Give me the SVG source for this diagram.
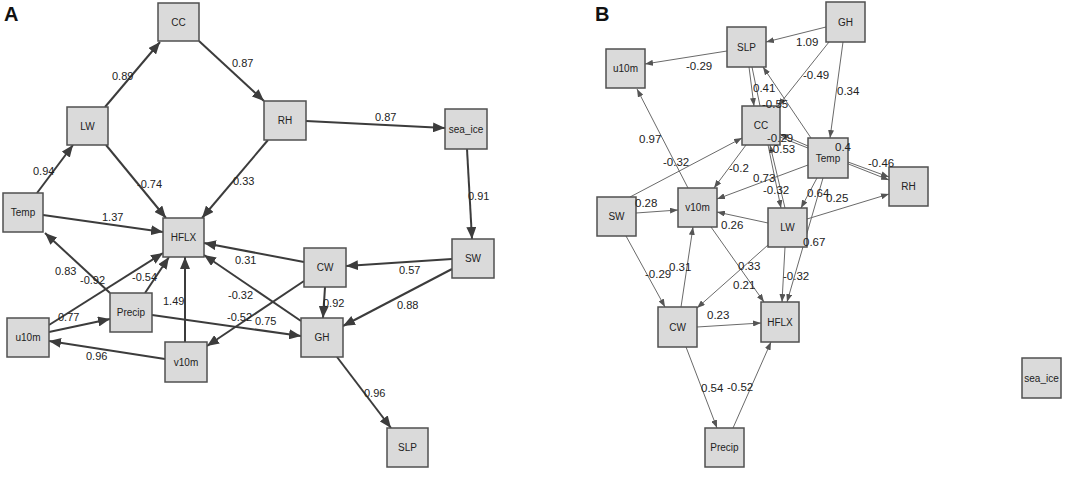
<svg xmlns="http://www.w3.org/2000/svg" width="1072" height="478" viewBox="0 0 1072 478">
<defs>
<style>
.box{fill:#dadada;stroke:#505050;stroke-width:1.5}
.nt{font-family:"Liberation Sans",Arial,sans-serif;font-size:10px;fill:#222;text-anchor:middle;dominant-baseline:central}
.ea{stroke:#3c3c3c;stroke-width:2;fill:none;marker-end:url(#ha)}
.eb{stroke:#6a6a6a;stroke-width:1;fill:none;marker-end:url(#hb)}
.la{font-family:"Liberation Sans",Arial,sans-serif;font-size:11px;fill:#222}
.lb{font-family:"Liberation Sans",Arial,sans-serif;font-size:11.5px;fill:#222}
.panel{font-family:"Liberation Sans",Arial,sans-serif;font-size:20px;font-weight:bold;fill:#111}
</style>
<marker id="ha" markerUnits="userSpaceOnUse" markerWidth="12" markerHeight="10" refX="12" refY="5" orient="auto"><path d="M0,0 L12,5 L0,10 z" fill="#3c3c3c"/></marker>
<marker id="hb" markerUnits="userSpaceOnUse" markerWidth="8" markerHeight="6" refX="8" refY="3" orient="auto"><path d="M0,0 L8,3 L0,6 z" fill="#555"/></marker>
</defs>
<rect width="1072" height="478" fill="#fff"/>
<text class="panel" x="4" y="21">A</text>
<text class="panel" x="595" y="21">B</text>

<g id="connectors-A">
<line class="ea" x1="105" y1="107" x2="160" y2="42"/>
<line class="ea" x1="199" y1="41" x2="264" y2="101"/>
<line class="ea" x1="37" y1="193" x2="73" y2="145"/>
<line class="ea" x1="106" y1="145" x2="166" y2="218"/>
<line class="ea" x1="268" y1="140" x2="202" y2="218"/>
<line class="ea" x1="306" y1="121" x2="445" y2="128"/>
<line class="ea" x1="467" y1="149" x2="472" y2="239"/>
<line class="ea" x1="43" y1="215" x2="163" y2="232"/>
<line class="ea" x1="110" y1="293" x2="45" y2="233"/>
<line class="ea" x1="49" y1="325" x2="163" y2="253"/>
<line class="ea" x1="145" y1="293" x2="169" y2="257"/>
<line class="ea" x1="49" y1="332" x2="110" y2="319"/>
<line class="ea" x1="152" y1="315" x2="301" y2="336"/>
<line class="ea" x1="185" y1="342" x2="185" y2="257"/>
<line class="ea" x1="165" y1="359" x2="49" y2="341"/>
<line class="ea" x1="304" y1="262" x2="204" y2="243"/>
<line class="ea" x1="301" y1="321" x2="204" y2="255"/>
<line class="ea" x1="304" y1="281" x2="207" y2="346"/>
<line class="ea" x1="325" y1="287" x2="323" y2="318"/>
<line class="ea" x1="452" y1="259" x2="346" y2="266"/>
<line class="ea" x1="452" y1="269" x2="343" y2="326"/>
<line class="ea" x1="337" y1="357" x2="391" y2="428"/>
</g>

<g id="A-CC"><rect class="box" x="158" y="3" width="41" height="38"/><text class="nt" x="178.5" y="22">CC</text></g>
<g id="A-LW"><rect class="box" x="67" y="107" width="41" height="38"/><text class="nt" x="87.5" y="126">LW</text></g>
<g id="A-Temp"><rect class="box" x="3" y="193" width="40" height="39"/><text class="nt" x="23" y="212.5">Temp</text></g>
<g id="A-HFLX"><rect class="box" x="163" y="218" width="41" height="39"/><text class="nt" x="183.5" y="237.5">HFLX</text></g>
<g id="A-RH"><rect class="box" x="264" y="101" width="42" height="39"/><text class="nt" x="285" y="120.5">RH</text></g>
<g id="A-sea_ice"><rect class="box" x="445" y="109" width="42" height="40"/><text class="nt" x="466" y="129">sea_ice</text></g>
<g id="A-SW"><rect class="box" x="452" y="239" width="42" height="39"/><text class="nt" x="473" y="258.5">SW</text></g>
<g id="A-CW"><rect class="box" x="304" y="248" width="42" height="39"/><text class="nt" x="325" y="267.5">CW</text></g>
<g id="A-GH"><rect class="box" x="301" y="318" width="42" height="39"/><text class="nt" x="322" y="337.5">GH</text></g>
<g id="A-SLP"><rect class="box" x="387" y="428" width="41" height="39"/><text class="nt" x="407.5" y="447.5">SLP</text></g>
<g id="A-Precip"><rect class="box" x="110" y="293" width="42" height="39"/><text class="nt" x="131" y="312.5">Precip</text></g>
<g id="A-u10m"><rect class="box" x="7" y="318" width="42" height="39"/><text class="nt" x="28" y="337.5">u10m</text></g>
<g id="A-v10m"><rect class="box" x="165" y="342" width="42" height="40"/><text class="nt" x="186" y="362">v10m</text></g>

<g id="labels-A">
<text class="la" x="112" y="80">0.89</text>
<text class="la" x="232" y="67">0.87</text>
<text class="la" x="33" y="175">0.94</text>
<text class="la" x="137" y="188">-0.74</text>
<text class="la" x="233" y="185">0.33</text>
<text class="la" x="102" y="221">1.37</text>
<text class="la" x="375" y="121">0.87</text>
<text class="la" x="468" y="200">0.91</text>
<text class="la" x="55" y="275">0.83</text>
<text class="la" x="80" y="284">-0.92</text>
<text class="la" x="132" y="281">-0.54</text>
<text class="la" x="163" y="305">1.49</text>
<text class="la" x="58" y="321">0.77</text>
<text class="la" x="86" y="360">0.96</text>
<text class="la" x="235" y="264">0.31</text>
<text class="la" x="228" y="299">-0.32</text>
<text class="la" x="227" y="321">-0.52</text>
<text class="la" x="255" y="325">0.75</text>
<text class="la" x="323" y="307">0.92</text>
<text class="la" x="399" y="274">0.57</text>
<text class="la" x="397" y="309">0.88</text>
<text class="la" x="364" y="397">0.96</text>
</g>

<g id="connectors-B">
<line class="eb" x1="826" y1="27" x2="766" y2="42"/>
<line class="eb" x1="727" y1="51" x2="645" y2="64"/>
<line class="eb" x1="829" y1="42" x2="778" y2="106"/>
<line class="eb" x1="843" y1="42" x2="830" y2="138"/>
<line class="eb" x1="811" y1="138" x2="763" y2="67"/>
<line class="eb" x1="749" y1="67" x2="754" y2="106"/>
<line class="eb" x1="752" y1="67" x2="781" y2="208"/>
<line class="eb" x1="785" y1="208" x2="770" y2="145"/>
<line class="eb" x1="808" y1="146" x2="780" y2="134"/>
<line class="eb" x1="780" y1="137" x2="889" y2="180"/>
<line class="eb" x1="848" y1="162" x2="889" y2="177"/>
<line class="eb" x1="746" y1="145" x2="714" y2="188"/>
<line class="eb" x1="630" y1="197" x2="742" y2="138"/>
<line class="eb" x1="636" y1="213" x2="678" y2="210"/>
<line class="eb" x1="688" y1="188" x2="637" y2="89"/>
<line class="eb" x1="808" y1="165" x2="717" y2="199"/>
<line class="eb" x1="768" y1="223" x2="717" y2="212"/>
<line class="eb" x1="807" y1="219" x2="889" y2="194"/>
<line class="eb" x1="817" y1="178" x2="801" y2="208"/>
<line class="eb" x1="823" y1="178" x2="787" y2="302"/>
<line class="eb" x1="785" y1="247" x2="782" y2="302"/>
<line class="eb" x1="768" y1="245" x2="697" y2="308"/>
<line class="eb" x1="711" y1="227" x2="764" y2="302"/>
<line class="eb" x1="681" y1="307" x2="693" y2="227"/>
<line class="eb" x1="626" y1="236" x2="665" y2="307"/>
<line class="eb" x1="697" y1="327" x2="761" y2="323"/>
<line class="eb" x1="686" y1="347" x2="717" y2="428"/>
<line class="eb" x1="733" y1="428" x2="771" y2="342"/>
</g>

<g id="B-SLP"><rect class="box" x="727" y="27" width="39" height="40"/><text class="nt" x="746.5" y="47">SLP</text></g>
<g id="B-u10m"><rect class="box" x="606" y="49" width="39" height="39"/><text class="nt" x="625.5" y="68.5">u10m</text></g>
<g id="B-CC"><rect class="box" x="742" y="106" width="38" height="39"/><text class="nt" x="761" y="125.5">CC</text></g>
<g id="B-GH"><rect class="box" x="826" y="2" width="39" height="40"/><text class="nt" x="845.5" y="22">GH</text></g>
<g id="B-Temp"><rect class="box" x="808" y="138" width="40" height="40"/><text class="nt" x="828" y="158">Temp</text></g>
<g id="B-RH"><rect class="box" x="889" y="167" width="39" height="39"/><text class="nt" x="908.5" y="186.5">RH</text></g>
<g id="B-LW"><rect class="box" x="768" y="208" width="39" height="39"/><text class="nt" x="787.5" y="227.5">LW</text></g>
<g id="B-SW"><rect class="box" x="597" y="197" width="39" height="39"/><text class="nt" x="616.5" y="216.5">SW</text></g>
<g id="B-v10m"><rect class="box" x="678" y="188" width="39" height="39"/><text class="nt" x="697.5" y="207.5">v10m</text></g>
<g id="B-CW"><rect class="box" x="658" y="307" width="39" height="40"/><text class="nt" x="677.5" y="327">CW</text></g>
<g id="B-HFLX"><rect class="box" x="761" y="302" width="38" height="40"/><text class="nt" x="780" y="322">HFLX</text></g>
<g id="B-Precip"><rect class="box" x="705" y="428" width="39" height="39"/><text class="nt" x="724.5" y="447.5">Precip</text></g>
<g id="B-sea_ice"><rect class="box" x="1022" y="358" width="39" height="40"/><text class="nt" x="1041.5" y="378">sea_ice</text></g>

<g id="labels-B">
<text class="lb" x="796" y="46">1.09</text>
<text class="lb" x="686" y="70">-0.29</text>
<text class="lb" x="803" y="79">-0.49</text>
<text class="lb" x="837" y="95">0.34</text>
<text class="lb" x="753" y="92">0.41</text>
<text class="lb" x="762" y="108">-0.55</text>
<text class="lb" x="639" y="143">0.97</text>
<text class="lb" x="663" y="166">-0.32</text>
<text class="lb" x="767" y="142">-0.29</text>
<text class="lb" x="769" y="153">-0.53</text>
<text class="lb" x="835" y="151">0.4</text>
<text class="lb" x="868" y="167">-0.46</text>
<text class="lb" x="729" y="172">-0.2</text>
<text class="lb" x="753" y="182">0.73</text>
<text class="lb" x="763" y="194">-0.32</text>
<text class="lb" x="807" y="197">0.64</text>
<text class="lb" x="826" y="202">0.25</text>
<text class="lb" x="635" y="207">0.28</text>
<text class="lb" x="721" y="229">0.26</text>
<text class="lb" x="803" y="246">0.67</text>
<text class="lb" x="738" y="270">0.33</text>
<text class="lb" x="783" y="280">-0.32</text>
<text class="lb" x="645" y="278">-0.29</text>
<text class="lb" x="669" y="271">0.31</text>
<text class="lb" x="733" y="289">0.21</text>
<text class="lb" x="707" y="319">0.23</text>
<text class="lb" x="701" y="392">0.54</text>
<text class="lb" x="727" y="391">-0.52</text>
</g>
</svg>
